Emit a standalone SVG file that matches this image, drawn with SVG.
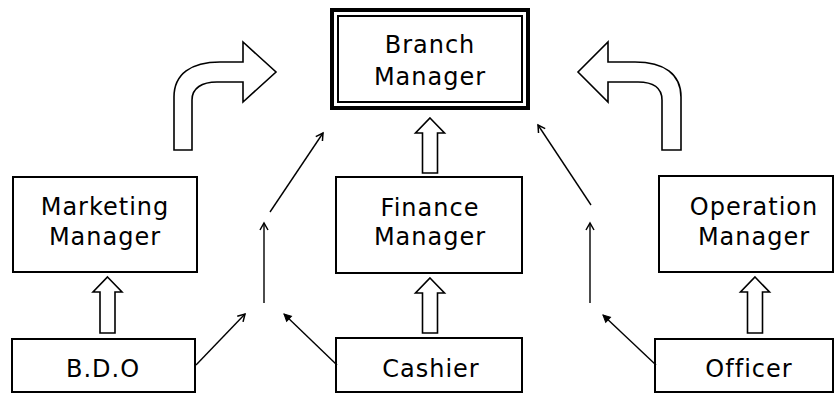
<svg xmlns="http://www.w3.org/2000/svg" width="835" height="394" viewBox="0 0 835 394">
<style>
.box{fill:#fff;stroke:#000;stroke-width:2}
.blk{fill:#fff;stroke:#000;stroke-width:1.6;stroke-linejoin:miter}
.ln{fill:none;stroke:#000;stroke-width:1.4}
text{font-family:"DejaVu Sans","Liberation Sans",sans-serif;font-size:24px;fill:#000;text-anchor:middle;letter-spacing:1px}
</style>
<defs>
<marker id="open" markerUnits="userSpaceOnUse" markerWidth="12" markerHeight="12" viewBox="0 0 12 12" refX="10" refY="6" orient="auto">
<path d="M3,2 L10,6 L3,10" fill="none" stroke="#000" stroke-width="1.5"/>
</marker>
<marker id="fill" markerUnits="userSpaceOnUse" markerWidth="12" markerHeight="12" viewBox="0 0 12 12" refX="10" refY="6" orient="auto">
<path d="M3,2.5 L10,6 L3,9.5 Z" fill="#000" stroke="#000" stroke-width="1"/>
</marker>
</defs>
<rect width="835" height="394" fill="#fff"/>
<g id="branch-manager">
<rect x="332" y="10" width="196" height="98" fill="#fff" stroke="#000" stroke-width="4"/>
<rect x="338" y="16" width="184" height="86" fill="none" stroke="#000" stroke-width="2"/>
<text x="430" y="53">Branch</text>
<text x="430" y="85">Manager</text>
</g>
<g id="marketing-manager">
<rect class="box" x="13" y="177" width="184" height="95"/>
<text x="105" y="215">Marketing</text>
<text x="105" y="245">Manager</text>
</g>
<g id="finance-manager">
<rect class="box" x="336" y="177" width="186" height="96"/>
<text x="430" y="216">Finance</text>
<text x="430" y="245">Manager</text>
</g>
<g id="operation-manager">
<rect class="box" x="659" y="176" width="174" height="96"/>
<text x="754" y="215">Operation</text>
<text x="754" y="245">Manager</text>
</g>
<g id="bdo">
<rect class="box" x="12" y="339" width="183" height="53"/>
<text x="103" y="377">B.D.O</text>
</g>
<g id="cashier">
<rect class="box" x="336" y="338" width="186" height="54"/>
<text x="431" y="377">Cashier</text>
</g>
<g id="officer">
<rect class="box" x="655" y="339" width="178" height="53"/>
<text x="749" y="377">Officer</text>
</g>
<g id="connectors">
<path class="blk" d="M174,150 L174,97 C174,74 191,62 220,62 L243,62 L243,42 L276,72 L243,102 L243,82 L217,82 C202,82 192,88 192,100 L192,150 Z"/>
<path class="blk" d="M681,150 L681,97 C681,74 664,62 635,62 L608,62 L608,42 L578,72 L608,102 L608,82 L638,82 C653,82 662,88 662,100 L662,150 Z"/>
<path class="blk" d="M107.5,277 L122,292 L115,292 L115,333 L100,333 L100,292 L93,292 Z"/>
<path class="blk" d="M430,118 L444.5,133 L437.5,133 L437.5,173 L422.5,173 L422.5,133 L415.5,133 Z"/>
<path class="blk" d="M430,278 L444.5,293 L437.5,293 L437.5,333 L422.5,333 L422.5,293 L415.5,293 Z"/>
<path class="blk" d="M755,277 L769.5,292 L762.5,292 L762.5,333 L747.5,333 L747.5,292 L740.5,292 Z"/>
<line class="ln" x1="270" y1="212" x2="323" y2="133" marker-end="url(#open)"/>
<line class="ln" x1="264" y1="303" x2="264" y2="223" marker-end="url(#open)"/>
<line class="ln" x1="196" y1="365" x2="245" y2="314" marker-end="url(#open)"/>
<line class="ln" x1="337" y1="365" x2="284" y2="314" marker-end="url(#fill)"/>
<line class="ln" x1="591" y1="205" x2="538" y2="125" marker-end="url(#open)"/>
<line class="ln" x1="590" y1="303" x2="590" y2="223" marker-end="url(#open)"/>
<line class="ln" x1="656" y1="365" x2="603" y2="315" marker-end="url(#fill)"/>
</g>
</svg>
